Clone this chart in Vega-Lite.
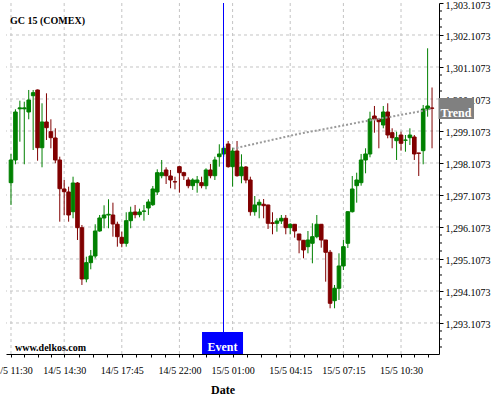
{
  "$schema": "https://vega.github.io/schema/vega-lite/v6.json",
  "width": 433,
  "height": 351,
  "autosize": {"type": "none"},
  "padding": {"left": 6, "top": 3, "right": 61, "bottom": 46},
  "background": "white",
  "config": {
    "view": {"stroke": null},
    "font": "Liberation Serif",
    "text": {"font": "Liberation Serif"},
    "scale": {"continuousPadding": 0},
    "axis": {"labelOverlap": false, "labelSeparation": 0, "labelBound": false}
  },
  "datasets": {
    "candles": [
      {"i":0,"o":1297.492,"h":1298.389,"l":1296.795,"c":1298.201},
      {"i":1,"o":1298.201,"h":1299.785,"l":1298.067,"c":1299.701},
      {"i":2,"o":1299.800,"h":1300.054,"l":1298.773,"c":1299.830},
      {"i":3,"o":1299.800,"h":1300.023,"l":1298.067,"c":1299.830},
      {"i":4,"o":1299.701,"h":1300.389,"l":1299.473,"c":1300.076},
      {"i":5,"o":1300.210,"h":1300.389,"l":1298.514,"c":1300.304},
      {"i":6,"o":1300.389,"h":1300.404,"l":1298.179,"c":1298.585},
      {"i":7,"o":1298.585,"h":1299.973,"l":1297.973,"c":1299.389},
      {"i":8,"o":1299.389,"h":1300.285,"l":1298.826,"c":1299.210},
      {"i":9,"o":1299.085,"h":1299.473,"l":1298.567,"c":1298.898},
      {"i":10,"o":1298.889,"h":1299.192,"l":1298.098,"c":1298.201},
      {"i":11,"o":1298.201,"h":1298.304,"l":1296.273,"c":1297.304},
      {"i":12,"o":1297.295,"h":1297.576,"l":1296.482,"c":1297.210},
      {"i":13,"o":1297.201,"h":1297.367,"l":1296.273,"c":1296.482},
      {"i":14,"o":1296.585,"h":1297.679,"l":1296.379,"c":1297.482},
      {"i":15,"o":1297.482,"h":1297.510,"l":1295.701,"c":1296.085},
      {"i":16,"o":1296.085,"h":1296.170,"l":1294.295,"c":1294.482},
      {"i":17,"o":1294.482,"h":1295.179,"l":1294.379,"c":1294.992},
      {"i":18,"o":1294.992,"h":1295.389,"l":1294.785,"c":1295.201},
      {"i":19,"o":1295.201,"h":1296.192,"l":1295.129,"c":1295.982},
      {"i":20,"o":1295.982,"h":1296.482,"l":1295.960,"c":1296.389},
      {"i":21,"o":1296.389,"h":1296.785,"l":1296.067,"c":1296.482},
      {"i":22,"o":1296.482,"h":1296.973,"l":1296.067,"c":1296.504},
      {"i":23,"o":1296.482,"h":1296.867,"l":1295.804,"c":1296.201},
      {"i":24,"o":1296.192,"h":1296.273,"l":1295.492,"c":1295.804},
      {"i":25,"o":1295.785,"h":1295.960,"l":1295.473,"c":1295.598},
      {"i":26,"o":1295.598,"h":1296.567,"l":1295.492,"c":1296.304},
      {"i":27,"o":1296.304,"h":1296.742,"l":1296.067,"c":1296.567},
      {"i":28,"o":1296.576,"h":1296.795,"l":1296.379,"c":1296.492},
      {"i":29,"o":1296.492,"h":1296.679,"l":1296.410,"c":1296.576},
      {"i":30,"o":1296.598,"h":1296.795,"l":1296.304,"c":1296.607},
      {"i":31,"o":1296.701,"h":1296.973,"l":1296.482,"c":1296.889},
      {"i":32,"o":1296.804,"h":1297.389,"l":1296.764,"c":1297.295},
      {"i":33,"o":1297.201,"h":1297.910,"l":1297.107,"c":1297.804},
      {"i":34,"o":1297.710,"h":1298.201,"l":1297.629,"c":1297.804},
      {"i":35,"o":1297.889,"h":1297.973,"l":1297.451,"c":1297.710},
      {"i":36,"o":1297.701,"h":1297.889,"l":1297.317,"c":1297.576},
      {"i":37,"o":1297.523,"h":1297.679,"l":1297.285,"c":1297.514},
      {"i":38,"o":1297.992,"h":1298.000,"l":1297.179,"c":1297.804},
      {"i":39,"o":1297.804,"h":1297.835,"l":1297.576,"c":1297.710},
      {"i":40,"o":1297.576,"h":1297.660,"l":1297.317,"c":1297.398},
      {"i":41,"o":1297.398,"h":1297.629,"l":1297.264,"c":1297.576},
      {"i":42,"o":1297.492,"h":1297.701,"l":1297.179,"c":1297.576},
      {"i":43,"o":1297.492,"h":1297.679,"l":1297.317,"c":1297.398},
      {"i":44,"o":1297.398,"h":1297.942,"l":1297.285,"c":1297.889},
      {"i":45,"o":1297.889,"h":1298.076,"l":1297.629,"c":1297.710},
      {"i":46,"o":1297.710,"h":1298.304,"l":1297.576,"c":1298.201},
      {"i":47,"o":1298.304,"h":1298.692,"l":1297.992,"c":1298.389},
      {"i":48,"o":1298.389,"h":1298.639,"l":1298.304,"c":1298.567},
      {"i":49,"o":1298.701,"h":1298.795,"l":1297.960,"c":1297.992},
      {"i":50,"o":1297.992,"h":1298.576,"l":1297.367,"c":1298.482},
      {"i":51,"o":1298.482,"h":1298.795,"l":1297.679,"c":1297.710},
      {"i":52,"o":1297.710,"h":1298.379,"l":1297.473,"c":1297.982},
      {"i":53,"o":1297.982,"h":1298.013,"l":1297.473,"c":1297.576},
      {"i":54,"o":1297.576,"h":1297.679,"l":1296.460,"c":1296.585},
      {"i":55,"o":1296.585,"h":1297.076,"l":1296.460,"c":1296.795},
      {"i":56,"o":1296.795,"h":1296.973,"l":1296.379,"c":1296.879},
      {"i":57,"o":1296.817,"h":1296.982,"l":1296.379,"c":1296.773},
      {"i":58,"o":1296.795,"h":1296.800,"l":1296.045,"c":1296.223},
      {"i":59,"o":1296.240,"h":1296.567,"l":1295.879,"c":1296.215},
      {"i":60,"o":1296.223,"h":1296.379,"l":1295.960,"c":1296.295},
      {"i":61,"o":1296.295,"h":1296.482,"l":1296.201,"c":1296.379},
      {"i":62,"o":1296.379,"h":1296.482,"l":1295.879,"c":1296.085},
      {"i":63,"o":1296.085,"h":1296.223,"l":1295.879,"c":1296.192},
      {"i":64,"o":1296.192,"h":1296.200,"l":1295.773,"c":1295.982},
      {"i":65,"o":1295.889,"h":1295.889,"l":1295.285,"c":1295.701},
      {"i":66,"o":1295.692,"h":1295.700,"l":1295.129,"c":1295.389},
      {"i":67,"o":1295.492,"h":1295.982,"l":1295.285,"c":1295.701},
      {"i":68,"o":1295.598,"h":1296.223,"l":1294.973,"c":1295.804},
      {"i":69,"o":1295.804,"h":1296.482,"l":1295.754,"c":1296.192},
      {"i":70,"o":1296.192,"h":1296.200,"l":1295.460,"c":1295.701},
      {"i":71,"o":1295.701,"h":1295.701,"l":1294.398,"c":1295.317},
      {"i":72,"o":1295.317,"h":1295.389,"l":1293.567,"c":1293.723},
      {"i":73,"o":1293.804,"h":1294.295,"l":1293.567,"c":1294.192},
      {"i":74,"o":1294.192,"h":1295.285,"l":1293.826,"c":1294.889},
      {"i":75,"o":1294.889,"h":1295.701,"l":1294.764,"c":1295.492},
      {"i":76,"o":1295.598,"h":1296.600,"l":1295.451,"c":1296.585},
      {"i":77,"o":1296.585,"h":1297.701,"l":1296.560,"c":1297.295},
      {"i":78,"o":1297.398,"h":1297.804,"l":1296.867,"c":1297.576},
      {"i":79,"o":1297.492,"h":1298.389,"l":1297.398,"c":1298.201},
      {"i":80,"o":1298.201,"h":1298.567,"l":1297.785,"c":1298.389},
      {"i":81,"o":1298.389,"h":1299.710,"l":1298.285,"c":1299.482},
      {"i":82,"o":1299.576,"h":1299.889,"l":1299.054,"c":1299.482},
      {"i":83,"o":1299.482,"h":1299.490,"l":1298.567,"c":1299.398},
      {"i":84,"o":1299.295,"h":1299.889,"l":1299.192,"c":1299.701},
      {"i":85,"o":1299.701,"h":1299.973,"l":1298.879,"c":1298.982},
      {"i":86,"o":1299.054,"h":1299.192,"l":1298.567,"c":1298.898},
      {"i":87,"o":1298.804,"h":1299.085,"l":1298.201,"c":1298.898},
      {"i":88,"o":1298.982,"h":1299.085,"l":1298.492,"c":1298.723},
      {"i":89,"o":1298.817,"h":1298.982,"l":1298.460,"c":1298.826},
      {"i":90,"o":1298.898,"h":1299.192,"l":1298.670,"c":1298.982},
      {"i":91,"o":1298.920,"h":1298.982,"l":1298.201,"c":1298.389},
      {"i":92,"o":1298.420,"h":1298.420,"l":1297.701,"c":1298.410},
      {"i":93,"o":1298.492,"h":1299.920,"l":1298.067,"c":1299.795},
      {"i":94,"o":1299.795,"h":1301.692,"l":1299.554,"c":1299.889},
      {"i":95,"o":1299.826,"h":1300.467,"l":1298.567,"c":1299.817}
    ],
    "trend": [
      {"i":50,"v":1298.55},
      {"i":57,"v":1298.77},
      {"i":65,"v":1299.02},
      {"i":72,"v":1299.20},
      {"i":79,"v":1299.39},
      {"i":86,"v":1299.56},
      {"i":93,"v":1299.74},
      {"i":95,"v":1299.81}
    ],
    "vgrid": [{"i":0},{"i":12},{"i":25},{"i":38},{"i":50},{"i":63},{"i":75},{"i":88}],
    "hgrid": [{"v":1293.1073},{"v":1294.1073},{"v":1295.1073},{"v":1296.1073},{"v":1297.1073},{"v":1298.1073},{"v":1299.1073},{"v":1300.1073},{"v":1301.1073},{"v":1302.1073}],
    "yminor": [{"v":1292.3573},{"v":1292.6073},{"v":1292.8573},{"v":1293.3573},{"v":1293.6073},{"v":1293.8573},{"v":1294.3573},{"v":1294.6073},{"v":1294.8573},{"v":1295.3573},{"v":1295.6073},{"v":1295.8573},{"v":1296.3573},{"v":1296.6073},{"v":1296.8573},{"v":1297.3573},{"v":1297.6073},{"v":1297.8573},{"v":1298.3573},{"v":1298.6073},{"v":1298.8573},{"v":1299.3573},{"v":1299.6073},{"v":1299.8573},{"v":1300.3573},{"v":1300.6073},{"v":1300.8573},{"v":1301.3573},{"v":1301.6073},{"v":1301.8573},{"v":1302.3573},{"v":1302.6073},{"v":1302.8573}]
  },
  "layer": [
    {
      "data": {"name": "vgrid"},
      "mark": {"type": "rule", "color": "#c4c4c4", "strokeWidth": 1, "strokeDash": [3, 3]},
      "encoding": {
        "x": {
          "field": "i", "type": "quantitative",
          "scale": {"domain": [-1.128, 96.57], "nice": false, "zero": false, "padding": 0},
          "axis": {
            "orient": "bottom",
            "title": "Date",
            "values": [0,3,6,9,12,15.25,18.5,21.75,25,28.25,31.5,34.75,38,41,44,47,50,53.25,56.5,59.75,63,66,69,72,75,78.25,81.5,84.75,88,91,94],
            "tickCount": 200,
            "labelExpr": "datum.value==0?'14/5 11:30':datum.value==12?'14/5 14:30':datum.value==25?'14/5 17:45':datum.value==38?'14/5 22:00':datum.value==50?'15/5 01:00':datum.value==63?'15/5 04:15':datum.value==75?'15/5 07:15':datum.value==88?'15/5 10:30':''",
            "tickSize": 3,
            "grid": false,
            "domainColor": "#000000",
            "tickColor": "#000000",
            "labelColor": "#000000",
            "labelFont": "Liberation Serif",
            "labelFontSize": 10,
            "labelPadding": 8,
            "labelOverlap": false,
            "labelBound": false,
            "labelFlush": false,
            "titleFont": "Liberation Serif",
            "titleFontSize": 12,
            "titleFontWeight": "bold",
            "titleColor": "#000000",
            "titlePadding": 9
          }
        }
      }
    },
    {
      "data": {"name": "hgrid"},
      "mark": {"type": "rule", "color": "#c4c4c4", "strokeWidth": 1, "strokeDash": [3, 3]},
      "encoding": {
        "y": {
          "field": "v", "type": "quantitative",
          "scale": {"domain": [1292.138, 1303.1073], "nice": false, "zero": false, "padding": 0},
          "axis": {
            "orient": "right",
            "title": null,
            "values": [1293.1073,1294.1073,1295.1073,1296.1073,1297.1073,1298.1073,1299.1073,1300.1073,1301.1073,1302.1073,1303.1073],
            "tickCount": 200,
            "format": ",.4f",
            "tickSize": 4,
            "grid": false,
            "domainColor": "#000000",
            "tickColor": "#000000",
            "labelColor": "#000000",
            "labelFont": "Liberation Serif",
            "labelFontSize": 10,
            "labelPadding": 2,
            "labelOffset": 2,
            "labelOverlap": false,
            "labelSeparation": 0,
            "labelBound": false,
            "labelFlush": false
          }
        }
      }
    },
    {
      "data": {"name": "yminor"},
      "mark": {"type": "tick", "orient": "horizontal", "size": 3, "thickness": 1, "color": "#000000", "opacity": 1},
      "encoding": {
        "x": {"datum": 96.91, "type": "quantitative"},
        "y": {"field": "v", "type": "quantitative"}
      }
    },
    {
      "data": {"name": "candles"},
      "mark": {"type": "rule", "strokeWidth": 1},
      "encoding": {
        "x": {"field": "i", "type": "quantitative"},
        "y": {"field": "l", "type": "quantitative"},
        "y2": {"field": "h"},
        "color": {"condition": {"test": "datum.c >= datum.o", "value": "#008000"}, "value": "#800000"}
      }
    },
    {
      "data": {"name": "candles"},
      "mark": {"type": "bar", "size": 3.6, "strokeWidth": 1},
      "encoding": {
        "x": {"field": "i", "type": "quantitative"},
        "y": {"field": "o", "type": "quantitative"},
        "y2": {"field": "c"},
        "color": {"condition": {"test": "datum.c >= datum.o", "value": "#008000"}, "value": "#800000"},
        "stroke": {"condition": {"test": "datum.c >= datum.o", "value": "#008000"}, "value": "#800000"}
      }
    },
    {
      "data": {"name": "trend"},
      "mark": {"type": "line", "color": "#9a9a9a", "strokeWidth": 2, "strokeDash": [2, 2]},
      "encoding": {
        "x": {"field": "i", "type": "quantitative"},
        "y": {"field": "v", "type": "quantitative"}
      }
    },
    {
      "data": {"values": [{"i": 47.947}]},
      "mark": {"type": "rule", "color": "#0000ff", "strokeWidth": 1},
      "encoding": {
        "x": {"field": "i", "type": "quantitative"}
      }
    },
    {
      "data": {"values": [{"i": 43.1, "i2": 52.35, "v": 1292.138, "v2": 1292.826}]},
      "mark": {"type": "rect", "color": "#0000ff"},
      "encoding": {
        "x": {"field": "i", "type": "quantitative"},
        "x2": {"field": "i2"},
        "y": {"field": "v", "type": "quantitative"},
        "y2": {"field": "v2"}
      }
    },
    {
      "data": {"values": [{"i": 47.7, "v": 1292.357, "t": "Event"}]},
      "mark": {"type": "text", "color": "#ffffff", "fontWeight": "bold", "fontSize": 12, "align": "center", "baseline": "middle"},
      "encoding": {
        "x": {"field": "i", "type": "quantitative"},
        "y": {"field": "v", "type": "quantitative"},
        "text": {"field": "t"}
      }
    },
    {
      "data": {"values": [{"i": 96.46, "i2": 104.47, "v": 1299.482, "v2": 1300.139}]},
      "mark": {"type": "rect", "color": "#808080"},
      "encoding": {
        "x": {"field": "i", "type": "quantitative"},
        "x2": {"field": "i2"},
        "y": {"field": "v", "type": "quantitative"},
        "y2": {"field": "v2"}
      }
    },
    {
      "data": {"values": [{"i": 100.4, "v": 1299.67, "t": "Trend"}]},
      "mark": {"type": "text", "color": "#ffffff", "fontWeight": "bold", "fontSize": 12, "align": "center", "baseline": "middle"},
      "encoding": {
        "x": {"field": "i", "type": "quantitative"},
        "y": {"field": "v", "type": "quantitative"},
        "text": {"field": "t"}
      }
    },
    {
      "data": {"values": [{"i": -0.23, "v": 1302.56, "t": "GC 15 (COMEX)"}, {"i": 0.9, "v": 1292.326, "t": "www.delkos.com"}]},
      "mark": {"type": "text", "color": "#000000", "fontWeight": "bold", "fontSize": 10, "align": "left", "baseline": "middle"},
      "encoding": {
        "x": {"field": "i", "type": "quantitative"},
        "y": {"field": "v", "type": "quantitative"},
        "text": {"field": "t"}
      }
    }
  ]
}
